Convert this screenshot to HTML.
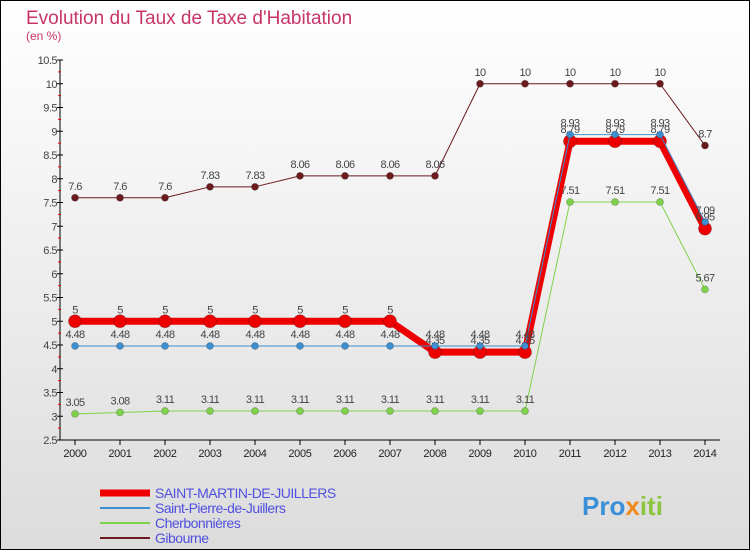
<!DOCTYPE html>
<html><head><meta charset="utf-8"><style>
body{margin:0;background:#fff}
svg{display:block;font-family:"Liberation Sans",sans-serif}
</style></head><body>
<svg width="750" height="550" xmlns="http://www.w3.org/2000/svg">
<defs><linearGradient id="bg" x1="0" y1="0" x2="0" y2="1"><stop offset="0" stop-color="#ffffff"/><stop offset="1" stop-color="#dcdcdc"/></linearGradient></defs>
<rect x="0.5" y="0.5" width="749" height="549" fill="url(#bg)" stroke="#000"/>
<text x="26" y="24" font-size="19" fill="#c8346a">Evolution du Taux de Taxe d'Habitation</text>
<text x="26" y="40" font-size="12" fill="#c8346a">(en %)</text>
<g id="axes"></g>
<g id="series"></g>
<g id="legend"></g>
<text x="582" y="515" font-size="26" font-weight="bold" fill="#3b8fd9">Pro<tspan fill="#f08a1c">x</tspan><tspan fill="#8cc63f">iti</tspan></text>
</svg>
<script>
const years=[2000,2001,2002,2003,2004,2005,2006,2007,2008,2009,2010,2011,2012,2013,2014];
const smj=[5,5,5,5,5,5,5,5,4.35,4.35,4.35,8.79,8.79,8.79,6.95];
const stp=[4.48,4.48,4.48,4.48,4.48,4.48,4.48,4.48,4.48,4.48,4.48,8.93,8.93,8.93,7.09];
const che=[3.05,3.08,3.11,3.11,3.11,3.11,3.11,3.11,3.11,3.11,3.11,7.51,7.51,7.51,5.67];
const gib=[7.6,7.6,7.6,7.83,7.83,8.06,8.06,8.06,8.06,10,10,10,10,10,8.7];
const yTicks=[2.5,3,3.5,4,4.5,5,5.5,6,6.5,7,7.5,8,8.5,9,9.5,10,10.5];
const seriesNames=["SAINT-MARTIN-DE-JUILLERS","Saint-Pierre-de-Juillers","Cherbonnières","Gibourne"];
const NS="http://www.w3.org/2000/svg";
const x=i=>75+i*(630/(years.length-1));
const y=v=>440-(v-2.5)*(380/8);
function mk(tag,attrs,parent,text){const e=document.createElementNS(NS,tag);for(const k in attrs)e.setAttribute(k,attrs[k]);if(text!==undefined)e.textContent=text;parent.appendChild(e);return e;}
const ax=document.getElementById('axes');
let yl=mk('line',{x1:60,y1:60,x2:60,y2:440,stroke:'#000'},ax);


let xl=mk('line',{x1:60,y1:440,x2:720,y2:440,stroke:'#000'},ax);


yTicks.forEach((t,i)=>{
  mk('line',{x1:57,y1:y(t),x2:63,y2:y(t),stroke:'#000'},ax);
  if(i<yTicks.length-1)mk('line',{x1:58,y1:(y(t)+y(yTicks[i+1]))/2,x2:61,y2:(y(t)+y(yTicks[i+1]))/2,stroke:'#e00'},ax);
  const e=mk('text',{x:57,y:y(t)+4,'font-size':11,fill:'#444','text-anchor':'end','letter-spacing':'-0.5'},ax,String(t));
  
  
});
years.forEach((yr,i)=>{
  mk('line',{x1:x(i),y1:440,x2:x(i),y2:445,stroke:'#000'},ax);
  const e=mk('text',{x:x(i),y:457,'font-size':11,fill:'#222','text-anchor':'middle','letter-spacing':'-0.3'},ax,String(yr));
  
  
});
const sg=document.getElementById('series');
function draw(vals,color,w,r,name){
  const g=mk('g',{},sg);
  
  
  mk('polyline',{points:vals.map((v,i)=>x(i)+','+y(v)).join(' '),fill:'none',stroke:color,'stroke-width':w,'stroke-linejoin':'round'},g);
  vals.forEach((v,i)=>{
    const c=mk('circle',{cx:x(i),cy:y(v),r:r,fill:color,stroke:'rgba(0,0,0,0.2)'},g);
    
    
    const t=mk('text',{x:x(i),y:y(v)-8,'font-size':11,fill:'#444','text-anchor':'middle','letter-spacing':'-0.6'},g,String(v));
    
    
  });
}
draw(gib,'#6b1a1e',1,3.5,'series-gibourne');
draw(che,'#7fd34a',1,3.5,'series-cherbonnieres');
draw(smj,'#ee0000',7,6.5,'series-saint-martin');
draw(stp,'#3d8fd0',1,3.5,'series-saint-pierre');
const lg=document.getElementById('legend');
const lc=['#ee0000','#3d8fd0','#7fd34a','#6b1a1e'];const lw=[7,2,2,2];
seriesNames.forEach((n,i)=>{
  const yy=493+i*15;
  const g=mk('g',{},lg);
  
  
  mk('line',{x1:100,y1:yy,x2:150,y2:yy,stroke:lc[i],'stroke-width':lw[i]},g);
  mk('text',{x:155,y:yy+5,'font-size':14,fill:'#5050e0','letter-spacing':'-0.5'},g,n);
});
</script>
</body></html>
